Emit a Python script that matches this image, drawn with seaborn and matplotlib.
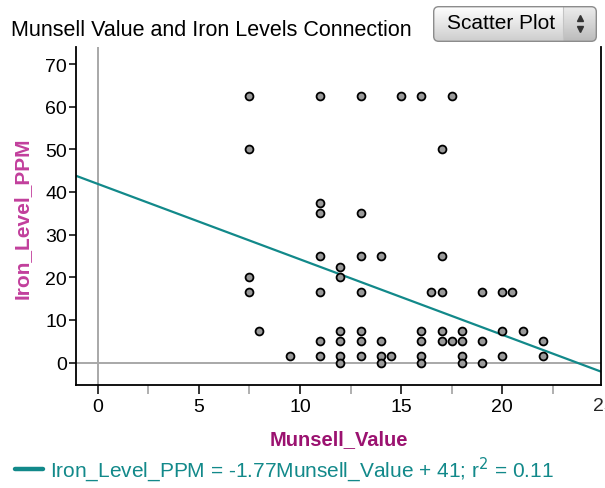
import numpy as np
import matplotlib
matplotlib.use("Agg")
import matplotlib.pyplot as plt
from matplotlib.patches import FancyBboxPatch
import matplotlib.transforms as mtransforms
import seaborn as sns

# data
munsell_value = [
    7.5, 7.5, 7.5, 7.5,
    8.0, 9.5,
    11, 11, 11, 11, 11, 11, 11,
    12, 12, 12, 12, 12, 12,
    13, 13, 13, 13, 13, 13, 13,
    14, 14, 14, 14,
    14.5, 15,
    16, 16, 16, 16, 16,
    16.5,
    17, 17, 17, 17, 17,
    17.5, 17.5,
    18, 18, 18, 18,
    19, 19, 19,
    20, 20, 20,
    20.5, 21,
    22, 22,
]
iron_level_ppm = [
    62.5, 50, 20, 16.5,
    7.5, 1.5,
    62.5, 37.5, 35, 25, 16.5, 5, 1.5,
    22.5, 20, 7.5, 5, 1.5, 0,
    62.5, 35, 25, 16.5, 7.5, 5, 1.5,
    25, 5, 1.5, 0,
    1.5, 62.5,
    62.5, 7.5, 5, 1.5, 0,
    16.5,
    50, 25, 16.5, 7.5, 5,
    62.5, 5,
    7.5, 5, 1.5, 0,
    16.5, 5, 0,
    16.5, 7.5, 1.5,
    16.5, 7.5,
    5, 1.5,
]
y_ticks = [0, 10, 20, 30, 40, 50, 60, 70]
x_ticks = [0, 5, 10, 15, 20]
x_minor = [2.5, 7.5, 12.5, 17.5, 22.5]

# least squares line as shown in the chart (some points overlap, so use the equation)
fit_slope = -1.77
fit_intercept = 41.9

title = "Munsell Value and Iron Levels Connection"
fit_label = "Iron_Level_PPM = -1.77Munsell_Value + 41; r$^{2}$ = 0.11"

sns.set_style("ticks")
plt.rcParams['font.family'] = ['Liberation Sans', 'DejaVu Sans']

teal = '#12898a'
W, H = 605, 489
fig = plt.figure(figsize=(W / 100, H / 100), dpi=100)
ax = fig.add_axes([76 / W, 1 - 385.5 / H, (601 - 76) / W, (385.5 - 48) / H])

xlim = (-1.07, 24.88)
ylim = (-5.16, 74.0)

# reference lines at zero
ax.axvline(0, color='#a8a8a8', lw=1.4, zorder=1)
ax.axhline(0, color='#a8a8a8', lw=1.4, zorder=1)

fit_line = ax.axline((0, fit_intercept), slope=fit_slope, color=teal, lw=1.6,
                     zorder=2, label=fit_label)

sns.scatterplot(x=munsell_value, y=iron_level_ppm, ax=ax, color='#9a9a9a',
                edgecolor='black', linewidth=1.3, s=32, zorder=3)

ax.set_xlim(xlim)
ax.set_ylim(ylim)

# spines
for side in ['left', 'bottom', 'right']:
    ax.spines[side].set_color('black')
    ax.spines[side].set_linewidth(1.3)
ax.spines['top'].set_visible(False)

ax.set_yticks(y_ticks)
ax.set_xticks(x_ticks)
ax.set_xticks(x_minor, minor=True)
ax.tick_params(axis='y', direction='out', length=5, width=1.1, color='black',
               labelsize=14, pad=1.5, labelcolor='black')
ax.tick_params(axis='x', which='major', direction='out', length=6.5, width=1.1,
               color='black', labelsize=14, pad=3.5, labelcolor='black')
ax.tick_params(axis='x', which='minor', direction='out', length=6.5, width=1.1,
               color='#9a9a9a')

# the 25 label that runs off the right edge
trans = mtransforms.blended_transform_factory(ax.transData, fig.transFigure)
ax.text(25, 1 - 407 / H, '25', transform=trans, ha='center', va='center',
        fontsize=14, clip_on=False)

ax.set_xlabel('')
ax.set_ylabel('')
fig.text(339 / W, 1 - 440 / H, 'Munsell_Value', ha='center', va='center',
         fontsize=14.5, fontweight='bold', color='#9b1270')
fig.text(22 / W, 1 - 218 / H, 'Iron_Level_PPM', ha='center', va='center',
         rotation=90, fontsize=15, fontweight='bold', color='#c23f9c')

fig.text(11 / W, 1 - 31 / H, title, ha='left', va='center', fontsize=15.5,
         color='black')

# legend with the fitted line
leg = ax.legend(handles=[fit_line], loc='center left',
                bbox_to_anchor=(15 / W, 1 - 470 / H),
                bbox_transform=fig.transFigure, frameon=False, borderpad=0,
                borderaxespad=0, handlelength=1.35, handletextpad=0.35,
                fontsize=15, labelcolor=teal)
for h in leg.legend_handles:
    h.set_linewidth(3.2)

# "Scatter Plot" drop-down button
bx = fig.add_axes([433 / W, 1 - 43 / H, 164 / W, 36 / H])
bx.set_xlim(0, 164)
bx.set_ylim(0, 36)
bx.axis('off')
grad = np.linspace(0.80, 1.0, 64).reshape(-1, 1)
box = FancyBboxPatch((0.7, 0.7), 162.6, 34.6,
                     boxstyle='round,pad=0,rounding_size=5',
                     fc='none', ec='#8c8c8c', lw=1.0, zorder=3)
bx.add_patch(box)
img = bx.imshow(grad, cmap='gray', vmin=0, vmax=1, aspect='auto',
                extent=(0, 130, 0, 36), origin='lower', zorder=1)
img.set_clip_path(box)
img2 = bx.imshow(grad - 0.07, cmap='gray', vmin=0, vmax=1, aspect='auto',
                 extent=(130, 164, 0, 36), origin='lower', zorder=1)
img2.set_clip_path(box)
bx.plot([130, 130], [1, 35], color='#c4c4c4', lw=0.8, zorder=2)
bx.text(68, 19.5, 'Scatter Plot', ha='center', va='center', fontsize=15,
        color='black', zorder=4)
bx.plot([147], [24], marker='^', ms=4.5, color='#333333', zorder=4)
bx.plot([147], [13], marker='v', ms=4.5, color='#333333', zorder=4)

fig.savefig('out.png', dpi=100)
